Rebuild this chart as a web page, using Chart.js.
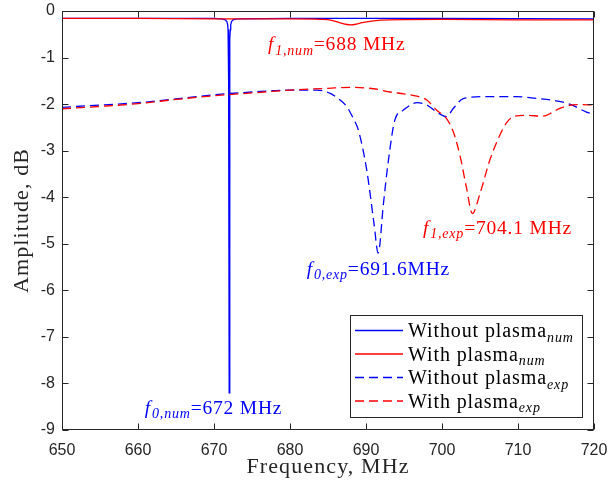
<!DOCTYPE html>
<html><head><meta charset="utf-8">
<script src="https://cdn.jsdelivr.net/npm/chart.js@4.4.0/dist/chart.umd.min.js"></script>
<style>html,body{margin:0;padding:0;background:#fff;}canvas{display:block;}</style>
</head><body>
<canvas id="c" width="611" height="483"></canvas>
<script>
// ---- data ----
const xTicks = [650,660,670,680,690,700,710,720];
const yTicks = [0,-1,-2,-3,-4,-5,-6,-7,-8,-9];

const woNumFreq = [650,660,670,671,671.5,671.7,671.8,671.85,671.9,671.95,672.0,672.05,672.1,672.15,672.2,672.3,672.5,673,680,690,700,710,720];
const woNumAmp  = [-0.16,-0.16,-0.16,-0.17,-0.19,-0.23,-0.30,-0.40,-0.60,-1.50,-8.20,-1.50,-0.60,-0.40,-0.30,-0.23,-0.19,-0.17,-0.16,-0.16,-0.16,-0.165,-0.17];

const wNumFreq = [650,660,670,680,684,685.5,686.5,687.5,688,688.5,689.5,691,693,700,710,720];
const wNumAmp  = [-0.16,-0.16,-0.17,-0.17,-0.18,-0.20,-0.25,-0.29,-0.30,-0.29,-0.25,-0.21,-0.19,-0.18,-0.19,-0.19];

const woExpFreq = [650,655,660,665,670,675,680,683.5,685.3,686.5,687.5,688.3,689.0,690.1,691.05,691.6,692.3,692.9,693.8,694.9,696.7,698.0,699.3,700.6,701.5,702.8,705.4,709.8,712.5,715,716.8,719,720];
const woExpAmp  = [-2.07,-2.02,-1.97,-1.89,-1.80,-1.74,-1.70,-1.70,-1.77,-1.90,-2.06,-2.30,-2.56,-3.42,-4.56,-5.20,-4.13,-3.27,-2.34,-2.13,-1.97,-2.02,-2.17,-2.27,-2.09,-1.88,-1.84,-1.84,-1.88,-1.93,-2.00,-2.17,-2.22];

const wExpFreq = [650,655,660,665,670,675,680,685,688,691,693.2,695,696.7,698,699.3,700.6,701.5,702.4,703.2,704.0,705,706.3,707.6,708.5,709.4,711.1,713.3,714.5,715.5,717.7,720];
const wExpAmp  = [-2.10,-2.05,-1.99,-1.90,-1.82,-1.76,-1.70,-1.66,-1.64,-1.67,-1.74,-1.78,-1.83,-1.91,-2.13,-2.31,-2.60,-3.13,-3.78,-4.35,-3.92,-3.20,-2.67,-2.40,-2.27,-2.24,-2.26,-2.18,-2.09,-2.01,-2.02];

const seriesNames = ['Without plasma','With plasma','Without plasma','With plasma'];
const seriesSubs  = ['num','num','exp','exp'];

const annotations = [
  {x:677.1, y:-0.71, color:'#ff0000', parts:[['f','i'],['1,num','s'],['=688 MHz','n']]},
  {x:697.5, y:-4.65, color:'#ff0000', parts:[['f','i'],['1,exp','s'],['=704.1 MHz','n']]},
  {x:682.2, y:-5.53, color:'#0000ff', parts:[['f','i'],['0,exp','s'],['=691.6MHz','n']]},
  {x:660.9, y:-8.52, color:'#0000ff', parts:[['f','i'],['0,num','s'],['=672 MHz','n']]}
];

function pts(xs, ys){ return xs.map((x,i)=>({x:x, y:ys[i]})); }

const SERIF = '"Liberation Serif", "DejaVu Serif", serif';
const SANS = '"Liberation Sans", Arial, sans-serif';
const AX = '#262626';

function drawRich(ctx, parts, x, y, size, color, ls){
  ctx.save();
  ctx.fillStyle = color;
  ctx.textBaseline = 'alphabetic';
  ctx.textAlign = 'left';
  ctx.letterSpacing = ls+'px';
  const base = y + size*0.33;
  let cx = x;
  for (const [t, st] of parts){
    let f, dy = 0;
    if (st==='i') f = 'italic '+size+'px '+SERIF;
    else if (st==='s'){ f = 'italic '+Math.round(size*0.7)+'px '+SERIF; dy = size*0.22; }
    else f = size+'px '+SERIF;
    ctx.font = f;
    ctx.fillText(t, cx, base+dy);
    cx += ctx.measureText(t).width + (st==='i'?1:0);
  }
  ctx.restore();
}

const decor = {
  id:'decor',
  afterDraw(chart){
    const ctx = chart.ctx, a = chart.chartArea;
    const xs = chart.scales.x, ys = chart.scales.y;
    ctx.save();
    ctx.strokeStyle = AX; ctx.lineWidth = 1;
    const L = Math.round(a.left)+0.5, R = Math.round(a.right)-0.5, T = Math.round(a.top)+0.5, B = Math.round(a.bottom)-0.5;
    ctx.strokeRect(L, T, R-L, B-T);
    const tl = 6;
    ctx.beginPath();
    for (const v of xTicks){
      const px = Math.round(xs.getPixelForValue(v))+0.5;
      ctx.moveTo(px, B); ctx.lineTo(px, B-tl);
      ctx.moveTo(px, T); ctx.lineTo(px, T+tl);
    }
    for (const v of yTicks){
      const py = Math.round(ys.getPixelForValue(v))+0.5;
      ctx.moveTo(L, py); ctx.lineTo(L+tl, py);
      ctx.moveTo(R, py); ctx.lineTo(R-tl, py);
    }
    ctx.stroke();
    ctx.restore();

    // annotations
    for (const an of annotations){
      drawRich(ctx, an.parts, xs.getPixelForValue(an.x), ys.getPixelForValue(an.y), 19.5, an.color, 0.8);
    }

    // axis titles
    ctx.save();
    ctx.fillStyle = AX;
    ctx.font = '22px '+SERIF;
    ctx.letterSpacing = '1.1px';
    ctx.textAlign = 'center'; ctx.textBaseline = 'middle';
    ctx.fillText('Frequency, MHz', (a.left+a.right)/2, 467);
    ctx.translate(22, (a.top+a.bottom)/2);
    ctx.rotate(-Math.PI/2);
    ctx.fillText('Amplitude, dB', 0, 0);
    ctx.restore();

    // legend
    ctx.save();
    const bx = 350.5, by = 315.5, bw = 232, bh = 102;
    ctx.fillStyle = '#fff'; ctx.fillRect(bx, by, bw, bh);
    ctx.strokeStyle = AX; ctx.lineWidth = 1; ctx.strokeRect(bx, by, bw, bh);
    const rows = [330.5, 354, 377.5, 401];
    chart.data.datasets.forEach((ds, i)=>{
      const yy = rows[i];
      ctx.beginPath();
      ctx.strokeStyle = ds.borderColor; ctx.lineWidth = 1.3;
      ctx.setLineDash(ds.borderDash || []);
      ctx.moveTo(355, yy); ctx.lineTo(403, yy); ctx.stroke();
      ctx.setLineDash([]);
      drawRich(ctx, [[seriesNames[i],'n'],[seriesSubs[i],'s']], 408, yy, 20, '#000', 0.9);
    });
    ctx.restore();
  }
};

new Chart(document.getElementById('c'), {
  type:'line',
  data:{ datasets:[
    {data:pts(woNumFreq, woNumAmp), borderColor:'#0000ff', borderWidth:1.3, tension:0, order:4},
    {data:pts(wNumFreq, wNumAmp), borderColor:'#ff0000', borderWidth:1.3, cubicInterpolationMode:'monotone', order:3},
    {data:pts(woExpFreq, woExpAmp), borderColor:'#0000ff', borderWidth:1.3, borderDash:[9,5], cubicInterpolationMode:'monotone', order:2},
    {data:pts(wExpFreq, wExpAmp), borderColor:'#ff0000', borderWidth:1.3, borderDash:[9,5], cubicInterpolationMode:'monotone', order:1}
  ]},
  options:{
    responsive:false, animation:false,
    layout:{padding:{top:11, right:17, left:0, bottom:0}},
    elements:{point:{radius:0}, line:{fill:false}},
    plugins:{legend:{display:false}, tooltip:{enabled:false}},
    scales:{
      x:{type:'linear', min:650, max:720,
         afterBuildTicks(s){ s.ticks = xTicks.map(v=>({value:v})); },
         ticks:{font:{family:SANS, size:16}, color:AX, padding:11, maxRotation:0, autoSkip:false},
         grid:{display:false, drawTicks:false}, border:{display:false},
         afterFit(s){ s.height = 53; s.paddingLeft = 0; s.paddingRight = 0; }},
      y:{type:'linear', min:-9, max:0,
         afterBuildTicks(s){ s.ticks = yTicks.map(v=>({value:v})); },
         ticks:{font:{family:SANS, size:16}, color:AX, padding:7, autoSkip:false, callback:v=>String(v)},
         grid:{display:false, drawTicks:false}, border:{display:false},
         afterFit(s){ s.width = 62; s.paddingTop = 0; s.paddingBottom = 0; }}
    }
  },
  plugins:[decor]
});
</script>
</body></html>
